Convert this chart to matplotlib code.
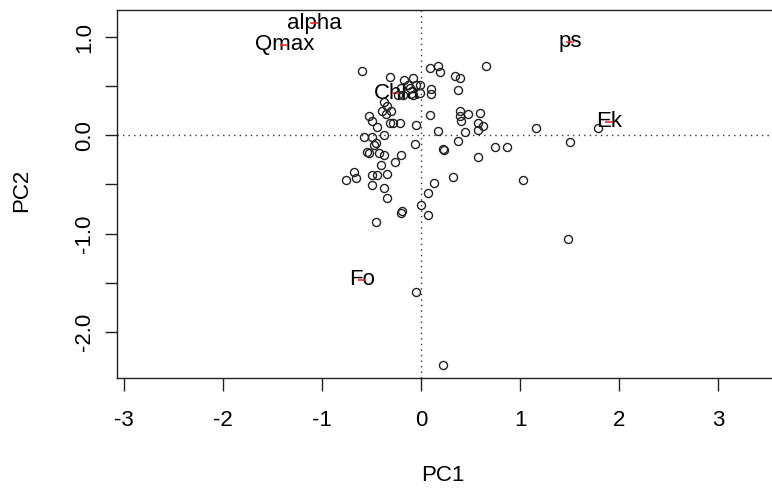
import numpy as np
import matplotlib
matplotlib.use("Agg")
import matplotlib.pyplot as plt

plt.rcParams['font.family'] = ['Liberation Sans', 'DejaVu Sans']

# PCA scores
pc1 = [-0.60, -0.31, -0.17, -0.08, -0.13, -0.05, -0.20, -0.11, -0.01, -0.08,
       -0.18, -0.23, -0.38, -0.35, -0.40, -0.30, -0.36, -0.53, -0.50, -0.45,
       -0.31, -0.28, -0.21, -0.05, -0.58, -0.50, -0.38, -0.46, -0.48, -0.55,
       -0.53, -0.43, -0.38, -0.20, -0.26, -0.41, -0.68, -0.76, -0.66, -0.50,
       -0.45, -0.35, -0.50, -0.38, -0.35, -0.06, 0.07, 0.00, 0.07, -0.20,
       -0.19, -0.46, 0.13, 0.09, 0.17, 0.19, 0.65, 0.34, 0.39, -0.01,
       0.10, 0.10, 0.37, 0.09, 0.39, 0.39, 0.47, 0.40, 0.59, 0.57,
       0.62, 0.57, 0.17, 0.44, 0.37, 0.22, 0.23, 0.74, 0.87, 0.57,
       0.32, 1.16, 1.50, 1.78, 1.03, 1.48, -0.05, 0.22]
pc2 = [0.65, 0.59, 0.56, 0.58, 0.51, 0.51, 0.48, 0.48, 0.43, 0.41,
       0.41, 0.41, 0.34, 0.30, 0.25, 0.25, 0.22, 0.20, 0.15, 0.08,
       0.13, 0.12, 0.12, 0.10, -0.02, -0.02, 0.00, -0.08, -0.10, -0.17,
       -0.18, -0.18, -0.20, -0.20, -0.27, -0.30, -0.37, -0.46, -0.43, -0.40,
       -0.40, -0.39, -0.51, -0.54, -0.64, -0.09, -0.59, -0.71, -0.81, -0.79,
       -0.77, -0.88, -0.49, 0.68, 0.71, 0.64, 0.71, 0.60, 0.58, 0.51,
       0.47, 0.42, 0.46, 0.21, 0.25, 0.20, 0.22, 0.15, 0.23, 0.12,
       0.09, 0.05, 0.04, 0.03, -0.06, -0.14, -0.15, -0.12, -0.12, -0.22,
       -0.42, 0.07, -0.07, 0.07, -0.46, -1.06, -1.59, -2.34]

# variable loadings (label positions)
var_names = ["alpha", "Qmax", "ps", "Ek", "Chla", "Fo"]
var_x = [-1.08, -1.38, 1.50, 1.90, -0.25, -0.60]
var_y = [1.14, 0.92, 0.95, 0.14, 0.43, -1.47]

x_ticks = [-3, -2, -1, 0, 1, 2, 3]
y_ticks = [-2.0, -1.5, -1.0, -0.5, 0.0, 0.5, 1.0]

W, H = 772, 490
fig = plt.figure(figsize=(W / 100, H / 100), dpi=100)
ax = fig.add_axes([117 / W, (H - 378) / H, (W - 117) / W, (378 - 10) / H])

ax.axhline(0, color='#333333', lw=1, ls=(0, (1, 3)), zorder=1)
ax.axvline(0, color='#333333', lw=1, ls=(0, (1, 3)), zorder=1)

# labels first, points on top (as in the original)
for name, x, y in zip(var_names, var_x, var_y):
    ax.text(x, y, name, ha='center', va='center', fontsize=16, color='black', zorder=2)
ax.plot(var_x, var_y, '_', color='#e8302a', ms=6, mew=1.2, zorder=3)

ax.plot(pc1, pc2, 'o', mfc='none', mec='#222222', mew=1.0, ms=5.8, zorder=4)

ax.set_xlim(-3.07, 3.54)
ax.set_ylim(-2.47, 1.275)

ax.set_xticks(x_ticks)
ax.set_xticklabels([str(t) for t in x_ticks])
ax.set_yticks(y_ticks)
ax.set_yticklabels([f"{t:.1f}" if t == int(t) else "" for t in y_ticks],
                   rotation=90, va='center')
ax.tick_params(direction='out', length=9, width=1, labelsize=16, colors='#222222',
               labelcolor='black')
ax.tick_params(axis='x', pad=14)
ax.tick_params(axis='y', pad=7)

for side in ['left', 'top', 'bottom']:
    ax.spines[side].set_color('#222222')
    ax.spines[side].set_linewidth(1)
ax.spines['right'].set_visible(False)

fig.text(443 / W, 1 - 475 / H, "PC1", ha='center', va='center', fontsize=16)
fig.text(22 / W, 1 - 190 / H, "PC2", ha='center', va='center', fontsize=16, rotation=90)

fig.savefig("out.png", dpi=100)
